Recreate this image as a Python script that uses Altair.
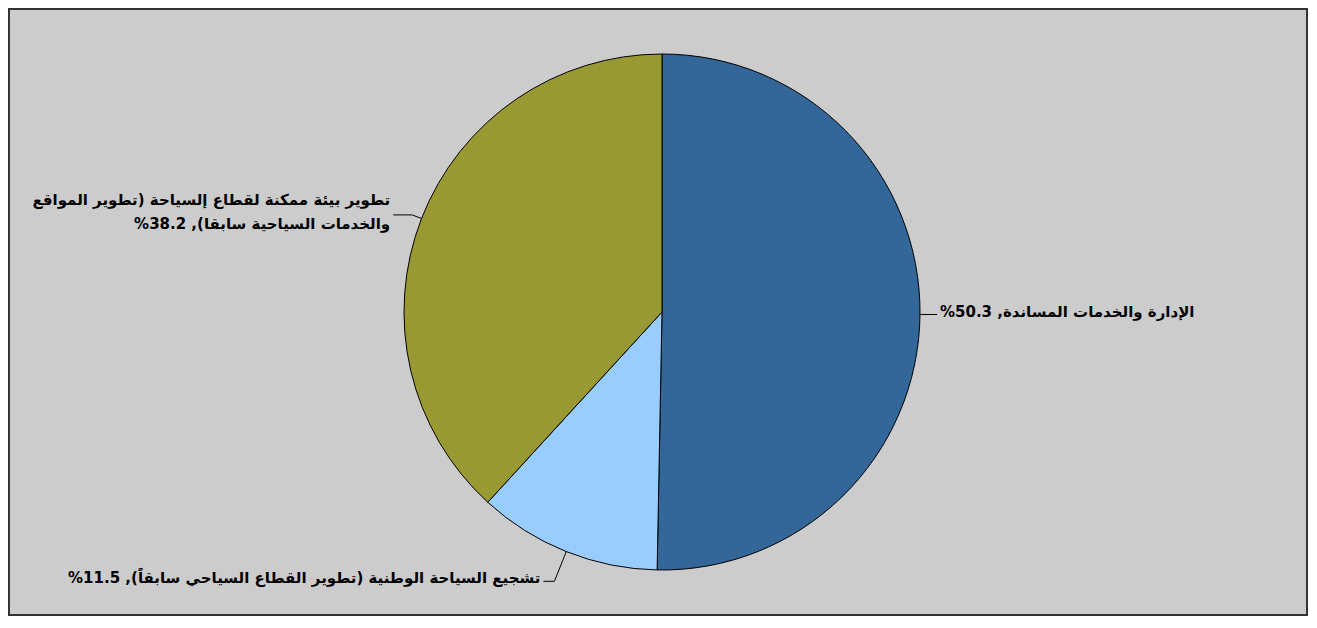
import altair as alt
import pandas as pd

# ---- data ----
categories = [
    "الإدارة والخدمات المساندة",
    "تشجيع السياحة الوطنية (تطوير القطاع السياحي سابقاً)",
    "تطوير بيئة ممكنة لقطاع إلسياحة (تطوير المواقع\nوالخدمات السياحية سابقا)",
]
values = [50.3, 11.5, 38.2]

# ---- style ----
colors = ["#336699", "#99ccff", "#999933"]
CX, CY, R = 653, 303, 258          # pie centre / radius (view pixels)
LEADER_EXT = [8, 32, 10]           # radial part of leader line
LEADER_H = [9, 11, 19]             # horizontal part of leader line
FONT = "DejaVu Sans"
FS = 15
LH = 24

RLE, PDF = "\u202B", "\u202C"


def make_label(name, v):
    text = f"{name}, {v}%"
    return "\n".join(RLE + line + PDF for line in text.split("\n"))


df = pd.DataFrame({
    "idx": list(range(len(categories))),
    "category": categories,
    "value": values,
    "label": [make_label(c, v) for c, v in zip(categories, values)],
})

base = alt.Chart(df)

pie = base.mark_arc(radius=R, stroke="black", strokeWidth=1).encode(
    theta=alt.Theta("value:Q", stack=True),
    color=alt.Color("category:N", scale=alt.Scale(domain=categories, range=colors), legend=None),
    order=alt.Order("idx:Q"),
    x=alt.value(CX),
    y=alt.value(CY),
)

geo = (
    base.transform_window(cum="sum(value)", sort=[alt.SortField("idx")], frame=[None, 0])
    .transform_joinaggregate(total="sum(value)")
    .transform_calculate(a="2*PI*(datum.cum - datum.value/2)/datum.total")
    .transform_calculate(
        ext=f"{LEADER_EXT}[datum.idx]",
        hl=f"{LEADER_H}[datum.idx]",
        side="sin(datum.a) >= 0 ? 1 : -1",
        nl="length(split(datum.label, '\\n'))",
    )
    .transform_calculate(
        sx=f"{CX} + {R}*sin(datum.a)",
        sy=f"{CY} - {R}*cos(datum.a)",
        ex=f"{CX} + ({R}+datum.ext)*sin(datum.a)",
        ey=f"{CY} - ({R}+datum.ext)*cos(datum.a)",
    )
    .transform_calculate(
        tx="datum.ex + datum.side*datum.hl",
        lx="datum.ex + datum.side*(datum.hl+3)",
        ly=f"datum.ey - (datum.nl-1)*{LH}/2 - 3",
    )
)

X = lambda f: alt.X(f, type="quantitative", scale=None, axis=None)
Y = lambda f: alt.Y(f, type="quantitative", scale=None, axis=None)

rule1 = geo.mark_rule(color="black", strokeWidth=1).encode(
    x=X("sx"), y=Y("sy"), x2="ex:Q", y2="ey:Q"
)
rule2 = geo.mark_rule(color="black", strokeWidth=1).encode(
    x=X("ex"), y=Y("ey"), x2="tx:Q", y2="ey:Q"
)

text_kw = dict(baseline="middle", font=FONT, fontSize=FS, fontWeight="bold",
               color="black", lineBreak="\n", lineHeight=LH)
text_r = geo.transform_filter("datum.side > 0").mark_text(align="left", **text_kw).encode(
    x=X("lx"), y=Y("ly"), text="label:N"
)
text_l = geo.transform_filter("datum.side < 0").mark_text(align="right", **text_kw).encode(
    x=X("lx"), y=Y("ly"), text="label:N"
)

chart = (
    alt.layer(pie, rule1, rule2, text_r, text_l)
    .properties(width=1298, height=606, padding=1, autosize="none", background="#cccccc")
    .configure_view(stroke="#333333", strokeWidth=2, fill="#cccccc")
)

chart.save("out.html", embed_options={"renderer": "svg", "actions": False})
